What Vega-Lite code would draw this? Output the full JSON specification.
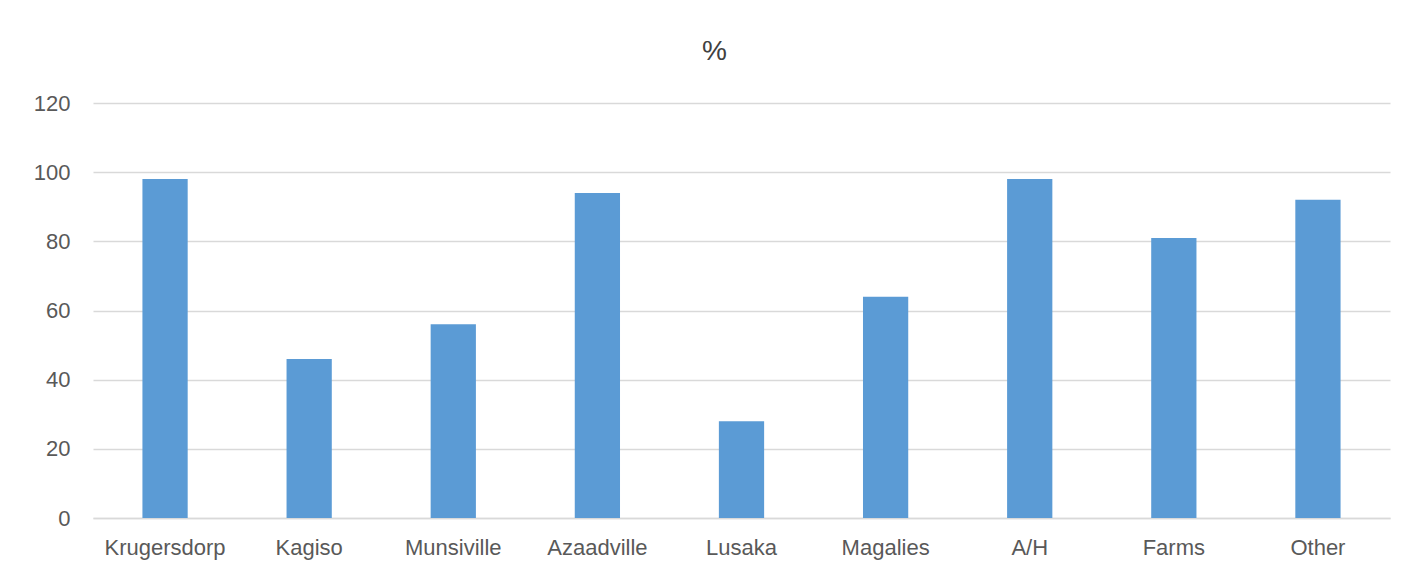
{
  "$schema": "https://vega.github.io/schema/vega-lite/v6.json",
  "autosize": "none",
  "width": 1297,
  "height": 415,
  "padding": {"left": 93, "top": 103, "right": 37, "bottom": 57},
  "background": "white",
  "title": {"text": "%", "fontSize": 28, "font": "Liberation Sans", "fontWeight": "normal", "color": "#404040", "offset": 26, "anchor": "middle", "dx": -27},
  "data": {
    "values": [
      {"area": "Krugersdorp", "pct": 98},
      {"area": "Kagiso", "pct": 46},
      {"area": "Munsiville", "pct": 56},
      {"area": "Azaadville", "pct": 94},
      {"area": "Lusaka", "pct": 28},
      {"area": "Magalies", "pct": 64},
      {"area": "A/H", "pct": 98},
      {"area": "Farms", "pct": 81},
      {"area": "Other", "pct": 92}
    ]
  },
  "mark": {"type": "bar", "color": "#5b9bd5"},
  "encoding": {
    "x": {
      "field": "area", "type": "nominal", "sort": null,
      "scale": {"paddingInner": 0.686, "paddingOuter": 0.343},
      "axis": {"title": null, "labelAngle": 0, "labelFont": "Liberation Sans", "labelFontSize": 22, "labelColor": "#595959", "labelPadding": 19, "ticks": false, "domain": true, "domainColor": "#d9d9d9", "domainWidth": 1.5}
    },
    "y": {
      "field": "pct", "type": "quantitative",
      "scale": {"domain": [0, 120]},
      "axis": {"title": null, "values": [0, 20, 40, 60, 80, 100, 120], "labelFont": "Liberation Sans", "labelFontSize": 22, "labelColor": "#595959", "labelPadding": 23, "ticks": false, "domain": false, "gridColor": "#d9d9d9", "gridWidth": 1.5}
    }
  },
  "config": {"view": {"stroke": null}}
}
